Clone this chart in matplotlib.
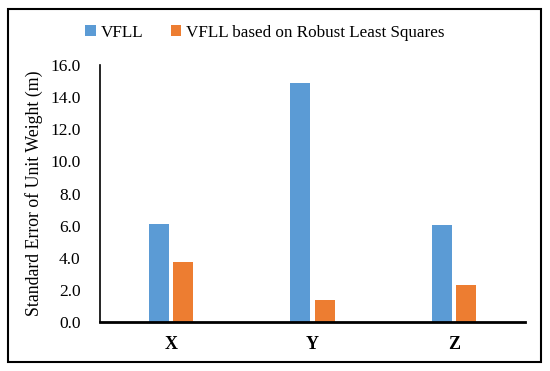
import numpy as np
import matplotlib.pyplot as plt
from matplotlib.patches import Rectangle

# Data
axes_labels = ['X', 'Y', 'Z']
vfll = [6.1, 14.9, 6.05]
vfll_robust = [3.75, 1.38, 2.3]
series_names = ['VFLL', 'VFLL based on Robust Least Squares']

plt.rcParams['font.family'] = ['Liberation Serif', 'DejaVu Serif']

fig = plt.figure(figsize=(5.5, 3.71), dpi=100)
ax = fig.add_axes([100 / 550, 49 / 371, 425 / 550, 257 / 371])

x = np.arange(len(axes_labels))
w = 0.142
gap = 0.015
ax.bar(x - w / 2 - gap, vfll, width=w, color='#5B9BD5', label=series_names[0])
ax.bar(x + w / 2 + gap, vfll_robust, width=w, color='#ED7D31', label=series_names[1])

ax.set_xlim(-0.5, 2.5)
ax.set_ylim(0, 16)
ax.set_yticks(np.arange(0, 16.1, 2))
ax.set_yticklabels(['{:.1f}'.format(v) for v in np.arange(0, 16.1, 2)], fontsize=12.5)
ax.set_xticks(x)
ax.set_xticklabels(axes_labels, fontsize=13, fontweight='bold')
ax.tick_params(axis='both', length=0)
ax.tick_params(axis='y', pad=14)
ax.tick_params(axis='x', pad=10)

ax.spines['top'].set_visible(False)
ax.spines['right'].set_visible(False)
ax.spines['left'].set_linewidth(1.2)
ax.spines['bottom'].set_linewidth(2)

ax.set_ylabel('Standard Error of Unit Weight (m)', fontsize=12.8, labelpad=5)

ax.legend(loc='center', bbox_to_anchor=(0.388, 1.125), ncol=2, frameon=False,
          fontsize=12.3, handlelength=0.6, handleheight=0.6, handletextpad=0.3,
          columnspacing=1.6)

# Outer border
fig.patches.append(Rectangle((8 / 550, 9 / 371), 533 / 550, 353 / 371,
                             transform=fig.transFigure, fill=False,
                             edgecolor='black', linewidth=1.5))

fig.savefig('out.png', dpi=100)
